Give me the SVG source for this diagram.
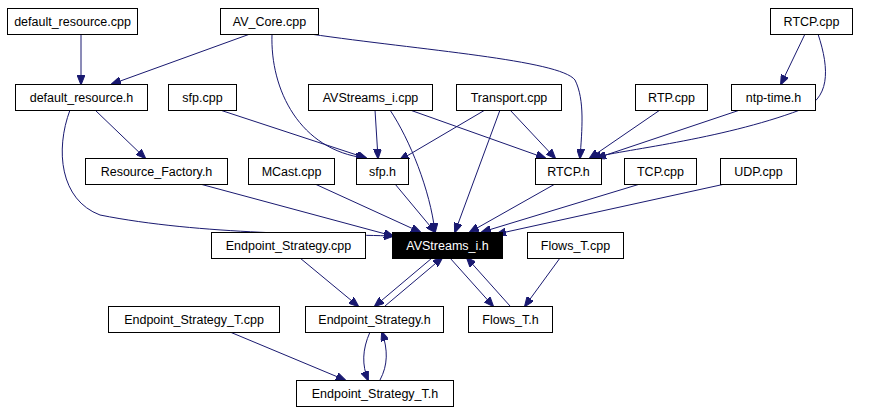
<svg xmlns="http://www.w3.org/2000/svg" width="869" height="413" viewBox="0 0 869 413">
<style>
.n rect{fill:#fff;stroke:#000;stroke-width:1}
.n text{font-family:"Liberation Sans",Arial,sans-serif;font-size:12.5px;fill:#000;text-anchor:middle}
#e path{fill:none;stroke:#191970;stroke-width:1;marker-end:url(#a)}
</style>
<defs><marker id="a" markerWidth="10" markerHeight="8" refX="9" refY="4" orient="auto" markerUnits="userSpaceOnUse"><path d="M0,0 L10,4 L0,8 Z" fill="#191970" stroke="#191970"/></marker></defs>
<rect width="869" height="413" fill="#fff"/>
<g id="e">
<path d="M81,34 L81,84"/>
<path d="M250,34 L112,84"/>
<path d="M272,34 C270,90 300,150 365,158"/>
<path d="M310,34 C420,50 560,60 575,80 C585,100 582,130 580,158"/>
<path d="M805,34 L781,84"/>
<path d="M818,34 C830,70 830,100 800,110 C720,140 620,150 592,158"/>
<path d="M95,110 L145,158"/>
<path d="M70,110 C55,150 60,200 100,215 C200,235 330,234 393,236"/>
<path d="M220,110 L366,158"/>
<path d="M375,110 L378,158"/>
<path d="M390,110 C410,140 430,190 435,232"/>
<path d="M410,110 L545,158"/>
<path d="M485,110 L400,160"/>
<path d="M510,110 L555,158"/>
<path d="M500,110 L455,232"/>
<path d="M660,110 L590,158"/>
<path d="M740,110 L597,158"/>
<path d="M200,184 L393,236"/>
<path d="M315,184 L420,232"/>
<path d="M395,184 L435,232"/>
<path d="M555,184 L470,232"/>
<path d="M640,184 L482,232"/>
<path d="M725,184 L497,234"/>
<path d="M300,258 L358,306"/>
<path d="M385,306 L442,258"/>
<path d="M432,258 L375,306"/>
<path d="M450,258 L493,306"/>
<path d="M510,306 L467,258"/>
<path d="M560,258 L525,306"/>
<path d="M230,332 L345,380"/>
<path d="M370,332 C362,350 362,365 368,380"/>
<path d="M380,380 C388,365 388,350 382,332"/>
</g>
<g id="default_resource_cpp" class="n"><rect x="7.5" y="8.5" width="130" height="26"/><text x="72.5" y="26">default_resource.cpp</text></g>
<g id="AV_Core_cpp" class="n"><rect x="220.5" y="8.5" width="98" height="26"/><text x="269.5" y="26">AV_Core.cpp</text></g>
<g id="RTCP_cpp" class="n"><rect x="770.5" y="8.5" width="82" height="26"/><text x="811.5" y="26">RTCP.cpp</text></g>
<g id="default_resource_h" class="n"><rect x="15.5" y="84.5" width="132" height="26"/><text x="81.5" y="102">default_resource.h</text></g>
<g id="sfp_cpp" class="n"><rect x="168.5" y="84.5" width="68" height="26"/><text x="202.5" y="102">sfp.cpp</text></g>
<g id="AVStreams_i_cpp" class="n"><rect x="308.5" y="84.5" width="124" height="26"/><text x="370.5" y="102">AVStreams_i.cpp</text></g>
<g id="Transport_cpp" class="n"><rect x="456.5" y="84.5" width="105" height="26"/><text x="509" y="102">Transport.cpp</text></g>
<g id="RTP_cpp" class="n"><rect x="635.5" y="84.5" width="72" height="26"/><text x="671.5" y="102">RTP.cpp</text></g>
<g id="ntp_time_h" class="n"><rect x="731.5" y="84.5" width="84" height="26"/><text x="773.5" y="102">ntp-time.h</text></g>
<g id="Resource_Factory_h" class="n"><rect x="85.5" y="158.5" width="142" height="26"/><text x="156.5" y="176">Resource_Factory.h</text></g>
<g id="MCast_cpp" class="n"><rect x="248.5" y="158.5" width="86" height="26"/><text x="291.5" y="176">MCast.cpp</text></g>
<g id="sfp_h" class="n"><rect x="356.5" y="158.5" width="52" height="26"/><text x="382.5" y="176">sfp.h</text></g>
<g id="RTCP_h" class="n"><rect x="535.5" y="158.5" width="66" height="26"/><text x="568.5" y="176">RTCP.h</text></g>
<g id="TCP_cpp" class="n"><rect x="624.5" y="158.5" width="72" height="26"/><text x="660.5" y="176">TCP.cpp</text></g>
<g id="UDP_cpp" class="n"><rect x="720.5" y="158.5" width="76" height="26"/><text x="758.5" y="176">UDP.cpp</text></g>
<g id="Endpoint_Strategy_cpp" class="n"><rect x="211.5" y="232.5" width="154" height="26"/><text x="288.5" y="250">Endpoint_Strategy.cpp</text></g>
<g id="AVStreams_i_h" class="n"><rect x="392.5" y="232.5" width="110" height="26" style="fill:#000"/><text x="447.5" y="250" style="fill:#fff">AVStreams_i.h</text></g>
<g id="Flows_T_cpp" class="n"><rect x="527.5" y="232.5" width="96" height="26"/><text x="575.5" y="250">Flows_T.cpp</text></g>
<g id="Endpoint_Strategy_T_cpp" class="n"><rect x="108.5" y="306.5" width="171" height="26"/><text x="194" y="324">Endpoint_Strategy_T.cpp</text></g>
<g id="Endpoint_Strategy_h" class="n"><rect x="305.5" y="306.5" width="138" height="26"/><text x="374.5" y="324">Endpoint_Strategy.h</text></g>
<g id="Flows_T_h" class="n"><rect x="468.5" y="306.5" width="84" height="26"/><text x="510.5" y="324">Flows_T.h</text></g>
<g id="Endpoint_Strategy_T_h" class="n"><rect x="296.5" y="380.5" width="157" height="26"/><text x="375" y="398">Endpoint_Strategy_T.h</text></g>
</svg>
